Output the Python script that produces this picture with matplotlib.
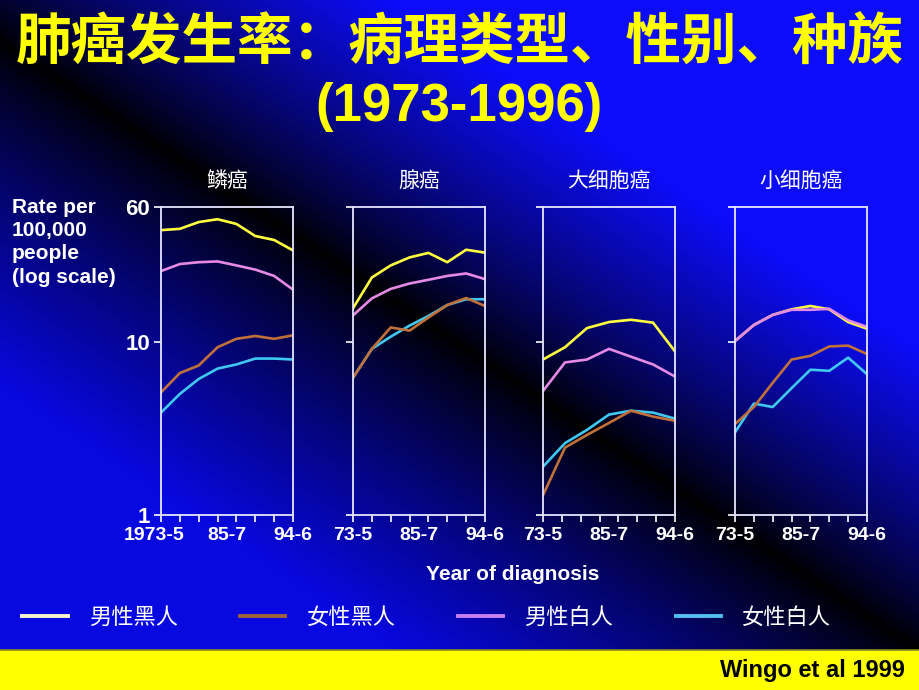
import numpy as np
import matplotlib
matplotlib.use("Agg")
import matplotlib.pyplot as plt
from matplotlib.lines import Line2D
from matplotlib.patches import Rectangle
from matplotlib.transforms import ScaledTranslation

# ---------------- data ----------------
panel_titles = ["鳞癌", "腺癌", "大细胞癌", "小细胞癌"]
series_names = ["男性黑人", "女性黑人", "男性白人", "女性白人"]
xtick_labels_first = ["1973-5", "85-7", "94-6"]
xtick_labels_other = ["73-5", "85-7", "94-6"]
ytick_values = [1, 10, 60]
ytick_labels = ["1", "10", "60"]

# Squamous (鳞癌)
sq_male_black = [44.1, 44.9, 49.1, 51.0, 47.9, 40.8, 38.7, 33.7]
sq_female_black = [5.1, 6.6, 7.3, 9.3, 10.4, 10.8, 10.4, 10.9]
sq_male_white = [25.6, 28.1, 28.8, 29.1, 27.6, 26.1, 24.0, 20.0]
sq_female_white = [3.9, 5.0, 6.1, 7.0, 7.4, 8.0, 8.0, 7.9]
# Adenocarcinoma (腺癌)
ad_male_black = [15.6, 23.5, 27.6, 30.7, 32.6, 28.8, 34.0, 32.7]
ad_female_black = [6.2, 9.1, 12.1, 11.6, 13.8, 16.3, 17.9, 16.1]
ad_male_white = [14.2, 17.8, 20.2, 21.7, 22.8, 24.0, 24.8, 23.0]
ad_female_white = [6.2, 9.1, 10.7, 12.4, 14.1, 16.3, 17.6, 17.6]
# Large cell (大细胞癌) - 7 points drawn over the same span
lg_male_black = [7.9, 9.3, 12.0, 13.0, 13.4, 12.9, 8.8]
lg_female_black = [1.3, 2.45, 2.9, 3.4, 4.0, 3.7, 3.5]
lg_male_white = [5.2, 7.6, 7.9, 9.1, 8.2, 7.4, 6.3]
lg_female_white = [1.9, 2.6, 3.1, 3.8, 4.0, 3.9, 3.6]
# Small cell (小细胞癌)
sm_male_black = [10.1, 12.5, 14.3, 15.4, 16.1, 15.4, 13.0, 11.9]
sm_female_black = [3.35, 4.2, 5.8, 7.9, 8.3, 9.4, 9.5, 8.5]
sm_male_white = [10.1, 12.5, 14.3, 15.3, 15.3, 15.5, 13.3, 12.2]
sm_female_white = [3.0, 4.4, 4.2, 5.4, 6.9, 6.8, 8.1, 6.5]

panels = [
    (sq_male_black, sq_female_black, sq_male_white, sq_female_white),
    (ad_male_black, ad_female_black, ad_male_white, ad_female_white),
    (lg_male_black, lg_female_black, lg_male_white, lg_female_white),
    (sm_male_black, sm_female_black, sm_male_white, sm_female_white),
]

line_colors = ["#FFFF40", "#C0703A", "#E58AE5", "#40C8F0"]
legend_colors = ["#F4F4C8", "#A0603A", "#C880F0", "#50C0F0"]
draw_order = [0, 2, 3, 1]

CJK = ["Noto Sans CJK SC", "DejaVu Sans"]
LAT = ["Liberation Sans", "DejaVu Sans"]

W, H = 920, 690
fig = plt.figure(figsize=(W / 100, H / 100), dpi=100)

# ---------------- background gradient ----------------
yy, xx = np.mgrid[0:H, 0:W].astype(float)
slope, icpt = 0.663, 40.0
d = (yy - (slope * xx + icpt)) / np.sqrt(1 + slope ** 2)
up = np.clip(-d / 250.0, 0, 1) ** 0.85
lo = np.clip(d / 290.0, 0, 1) ** 0.85
b = np.where(d < 0, up * 250, lo * 225)
rg = np.where(d < 0, up * 12, lo * 8)
img = np.dstack([rg, rg, b]) / 255.0
bg = fig.add_axes([0, 0, 1, 1], zorder=-10)
bg.imshow(img, extent=[0, 1, 0, 1], aspect="auto", interpolation="bilinear")
bg.set_axis_off()

# footer band
fig.patches.append(Rectangle((0, 0), 1, 40 / H, transform=fig.transFigure,
                             facecolor="#FFFF00", edgecolor="none", zorder=-5))
fig.lines.append(Line2D([0, 1], [40 / H, 40 / H], transform=fig.transFigure,
                        color="#8A8A20", lw=1.2, zorder=-4))

# ---------------- panels ----------------
lefts = [161, 353, 543, 735]
ax_w, ax_top, ax_bot = 132, 207, 515
for k, (left, data) in enumerate(zip(lefts, panels)):
    ax = fig.add_axes([left / W, (H - ax_bot) / H, ax_w / W, (ax_bot - ax_top) / H])
    ax.set_facecolor("none")
    ax.set_yscale("log")
    for s in draw_order:
        vals = data[s]
        xs = np.linspace(0, 7, len(vals))
        ax.plot(xs, vals, color=line_colors[s], lw=1.9, solid_joinstyle="round")
    ax.set_xlim(0, 7)
    ax.set_ylim(1, 60)
    for sp in ax.spines.values():
        sp.set_color("#E6E6FF")
        sp.set_linewidth(1.3)
    ax.yaxis.set_minor_locator(matplotlib.ticker.NullLocator())
    ax.set_yticks(ytick_values)
    if k == 0:
        ax.set_yticklabels(ytick_labels)
    else:
        ax.set_yticklabels([])
    ax.tick_params(axis="y", which="major", direction="out", length=5, width=1.2,
                   colors="white", pad=3, labelsize=16)
    for t in ax.get_yticklabels():
        t.set_fontfamily(LAT)
        t.set_fontweight("bold")
    ax.xaxis.remove_overlapping_locs = False
    ax.set_xticks(np.arange(8))
    ax.set_xticklabels([])
    ax.set_xticks([0, 3.5, 7], minor=True)
    ax.set_xticklabels(xtick_labels_first if k == 0 else xtick_labels_other, minor=True)
    ax.tick_params(axis="x", which="major", direction="out", length=5, width=1.2,
                   colors="white")
    ax.tick_params(axis="x", which="minor", length=0, pad=8.5, labelsize=14,
                   labelcolor="white")
    for t in ax.get_xticklabels(minor=True):
        t.set_fontfamily(LAT)
        t.set_fontweight("bold")
    if k == 0:
        lab = ax.xaxis.get_minor_ticks()[0].label1
        lab.set_transform(lab.get_transform() + ScaledTranslation(-0.07, 0, fig.dpi_scale_trans))
    fig.text((left + ax_w / 2) / W, 1 - 181 / H, panel_titles[k], color="white",
             fontsize=15, family=CJK, ha="center", va="center")

# ---------------- texts ----------------
fig.text(0.5, 1 - 44 / H, "肺癌发生率：病理类型、性别、种族", color="#FFFF00",
         fontsize=40, fontweight="bold", family=CJK, ha="center", va="center")
fig.text(459 / W, 1 - 107 / H, "(1973-1996)", color="#FFFF00",
         fontsize=38, fontweight="bold", family=LAT, ha="center", va="center")
fig.text(12 / W, 1 - 198 / H, "Rate per\n100,000\npeople\n(log scale)", color="white",
         fontsize=15, fontweight="bold", family=LAT, ha="left", va="top",
         linespacing=1.28)
fig.text(513 / W, 1 - 575 / H, "Year of diagnosis", color="white",
         fontsize=15, fontweight="bold", family=LAT, ha="center", va="center")
fig.text(905 / W, 1 - 670 / H, "Wingo et al 1999", color="black",
         fontsize=17, fontweight="bold", family=LAT, ha="right", va="center")

# ---------------- legend ----------------
handles = [Line2D([], [], color=c, lw=2.8) for c in legend_colors]
leg = fig.legend(handles, series_names, loc="center left",
                 bbox_to_anchor=(22 / W, 1 - 617 / H), ncol=4, frameon=False,
                 handlelength=2.05, handletextpad=0.95, columnspacing=2.8,
                 borderpad=0, borderaxespad=0,
                 prop={"family": CJK, "size": 16})
for t in leg.get_texts():
    t.set_color("white")

fig.savefig("out.png", dpi=100)
